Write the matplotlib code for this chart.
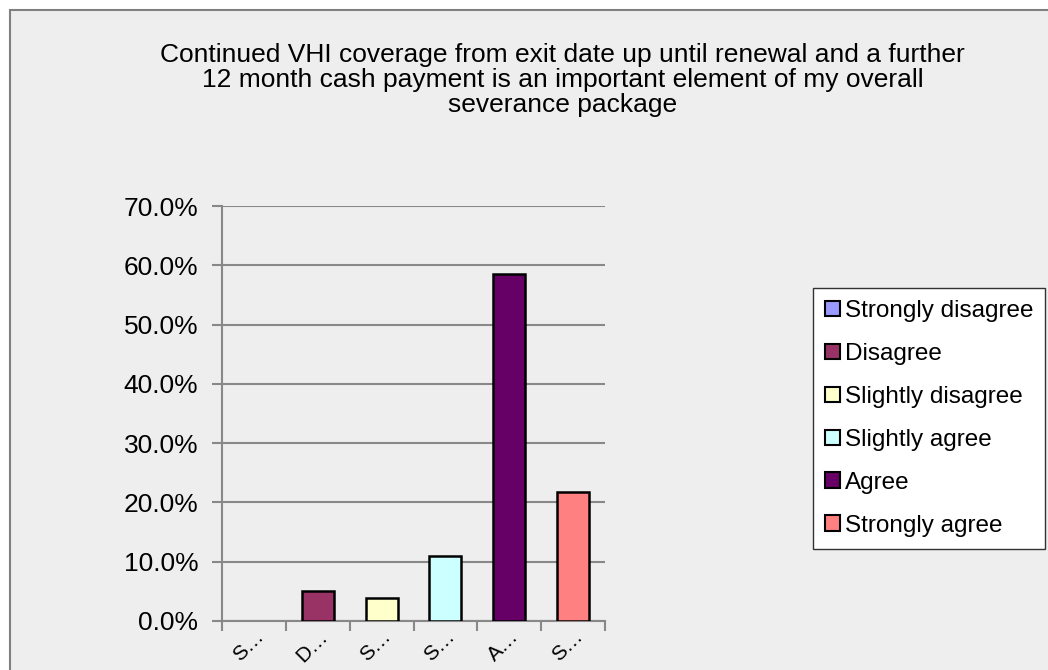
import matplotlib.pyplot as plt
from matplotlib.patches import Rectangle

categories = ['Strongly disagree', 'Disagree', 'Slightly disagree',
              'Slightly agree', 'Agree', 'Strongly agree']
tick_labels = ['S…', 'D…', 'S…', 'S…', 'A…', 'S…']
values = [0.0, 5.1, 3.8, 10.9, 58.6, 21.7]
colors = ['#9999FF', '#993366', '#FFFFCC', '#CCFFFF', '#660066', '#FF8080']
title = ('Continued VHI coverage from exit date up until renewal and a further\n'
         '12 month cash payment is an important element of my overall\n'
         'severance package')

plt.rcParams['font.family'] = ['Liberation Sans', 'DejaVu Sans']

fig = plt.figure(figsize=(10.48, 6.7), dpi=100)
fig.patch.set_facecolor('white')
fig.patches.append(Rectangle((10 / 1048, -0.1), 1.2, 1.1 - 10 / 670,
                             transform=fig.transFigure, facecolor='#EEEEEE',
                             edgecolor='#808080', linewidth=1.5, zorder=-10))

ax = fig.add_axes([222 / 1048, 1 - 621 / 670, 383 / 1048, 415 / 670])
ax.set_facecolor('#EEEEEE')

x = list(range(len(categories)))
edge_widths = [0 if v == 0 else 1.8 for v in values]
bars = ax.bar(x, values, width=0.5, color=colors, edgecolor='black',
              linewidth=edge_widths, zorder=3)

ax.set_xlim(-0.5, len(categories) - 0.5)
ax.set_ylim(0, 70)
ax.set_yticks(range(0, 71, 10))
ax.set_yticklabels([f'{v:.1f}%' for v in range(0, 71, 10)], fontsize=19)
ax.yaxis.grid(True, color='#888888', linewidth=1.5, zorder=0)

ax.set_xticks([i - 0.5 for i in range(len(categories) + 1)])
ax.set_xticklabels([])
ax.set_xticks(x, minor=True)
ax.set_xticklabels(tick_labels, minor=True, rotation=45, ha='right',
                   va='top', rotation_mode='anchor', fontsize=15)
ax.tick_params(axis='x', which='minor', length=0, pad=4)
ax.tick_params(axis='both', which='major', length=7, width=1.5,
               color='#888888', direction='out')
ax.tick_params(axis='y', pad=10)

for s in ['top', 'right']:
    ax.spines[s].set_visible(False)
for s in ['left', 'bottom']:
    ax.spines[s].set_color('#888888')
    ax.spines[s].set_linewidth(1.5)

fig.text(0.537, 1 - 43 / 670, title, ha='center', va='top', fontsize=19,
         linespacing=1.05)

leg = fig.legend(bars, categories, loc='upper left',
                 bbox_to_anchor=(813 / 1048, 1 - 288 / 670),
                 fontsize=17.5, frameon=True, fancybox=False,
                 handlelength=0.6, handleheight=0.6, handletextpad=0.2,
                 labelspacing=0.86, borderpad=0.5, borderaxespad=0)
leg.get_frame().set_edgecolor('#333333')
leg.get_frame().set_linewidth(1.0)
leg.get_frame().set_facecolor('white')
leg.get_frame().set_alpha(1)
for h in leg.legend_handles:
    h.set_linewidth(1.5)

fig.savefig('out.png', dpi=100)
